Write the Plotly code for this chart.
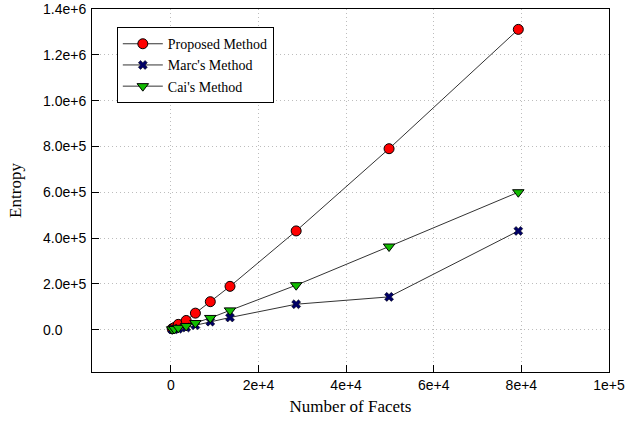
import plotly.graph_objects as go

facets = [300, 800, 1700, 3500, 5600, 9000, 13500, 28600, 49800, 79300]
proposed = [4000, 9000, 23000, 40000, 72000, 122000, 189000, 431000, 790000, 1311000]
marc = [500, 1500, 4000, 9000, 19000, 35000, 53000, 111000, 143000, 431000]
cai = [1500, 3000, 8000, 16000, 29000, 51000, 84000, 194000, 363000, 600000]

x_tick_vals = [0, 20000, 40000, 60000, 80000, 100000]
x_tick_text = ["0", "2e+4", "4e+4", "6e+4", "8e+4", "1e+5"]
y_tick_vals = [0, 200000, 400000, 600000, 800000, 1000000, 1200000, 1400000]
y_tick_text = ["0.0", "2.0e+5", "4.0e+5", "6.0e+5", "8.0e+5", "1.0e+6", "1.2e+6", "1.4e+6"]

serif = "Liberation Serif, Times New Roman, serif"
sans = "Liberation Sans, Arial, sans-serif"

fig = go.Figure()
fig.add_trace(go.Scatter(
    x=facets, y=proposed, name="Proposed Method", mode="lines+markers",
    line=dict(color="#333333", width=1),
    marker=dict(symbol="circle", size=10, color="#ff0000", line=dict(color="#000000", width=1))))
fig.add_trace(go.Scatter(
    x=facets, y=marc, name="Marc's Method", mode="lines+markers",
    line=dict(color="#333333", width=1),
    marker=dict(symbol="x", size=8, color="#000066", line=dict(color="#000000", width=0.5))))
fig.add_trace(go.Scatter(
    x=facets, y=cai, name="Cai's Method", mode="lines+markers",
    line=dict(color="#333333", width=1),
    marker=dict(symbol="triangle-down", size=10, color="#11bb00", line=dict(color="#000000", width=1))))

for v, t in zip(y_tick_vals, y_tick_text):
    fig.add_annotation(x=-0.0985, xref="paper", xanchor="left", y=v, yref="y", yanchor="middle",
                       text=t, showarrow=False, font=dict(family=sans, size=14, color="#000000"))

fig.update_layout(
    width=637, height=431,
    margin=dict(l=92, r=28, t=9, b=59),
    paper_bgcolor="white", plot_bgcolor="white",
    showlegend=True,
    legend=dict(x=0.048, y=0.95, xanchor="left", yanchor="top",
                bordercolor="#000000", borderwidth=1, bgcolor="white",
                font=dict(family=serif, size=14, color="#000000"),
                tracegroupgap=0, itemwidth=40),
)
fig.update_xaxes(
    range=[-18000, 100000], tickvals=x_tick_vals, ticktext=x_tick_text,
    ticks="inside", ticklen=7, tickcolor="#000000", tickwidth=1,
    showline=True, linecolor="#000000", linewidth=1, mirror=True,
    showgrid=True, gridcolor="#bdbdbd", griddash="1px,3px", gridwidth=1,
    zeroline=False,
    tickfont=dict(family=sans, size=14, color="#000000"),
    title=dict(text="Number of Facets", font=dict(family=serif, size=17, color="#000000"), standoff=8),
)
fig.update_yaxes(
    range=[-185000, 1400000], tickvals=y_tick_vals,
    showticklabels=False,
    ticks="inside", ticklen=7, tickcolor="#000000", tickwidth=1,
    showline=True, linecolor="#000000", linewidth=1, mirror=True,
    showgrid=True, gridcolor="#bdbdbd", griddash="1px,3px", gridwidth=1,
    zeroline=False,
    title=dict(text="Entropy", font=dict(family=serif, size=17, color="#000000"), standoff=65),
)

fig.write_html("out.html", config={"displayModeBar": False},
               post_script="document.body.style.margin='0';")
